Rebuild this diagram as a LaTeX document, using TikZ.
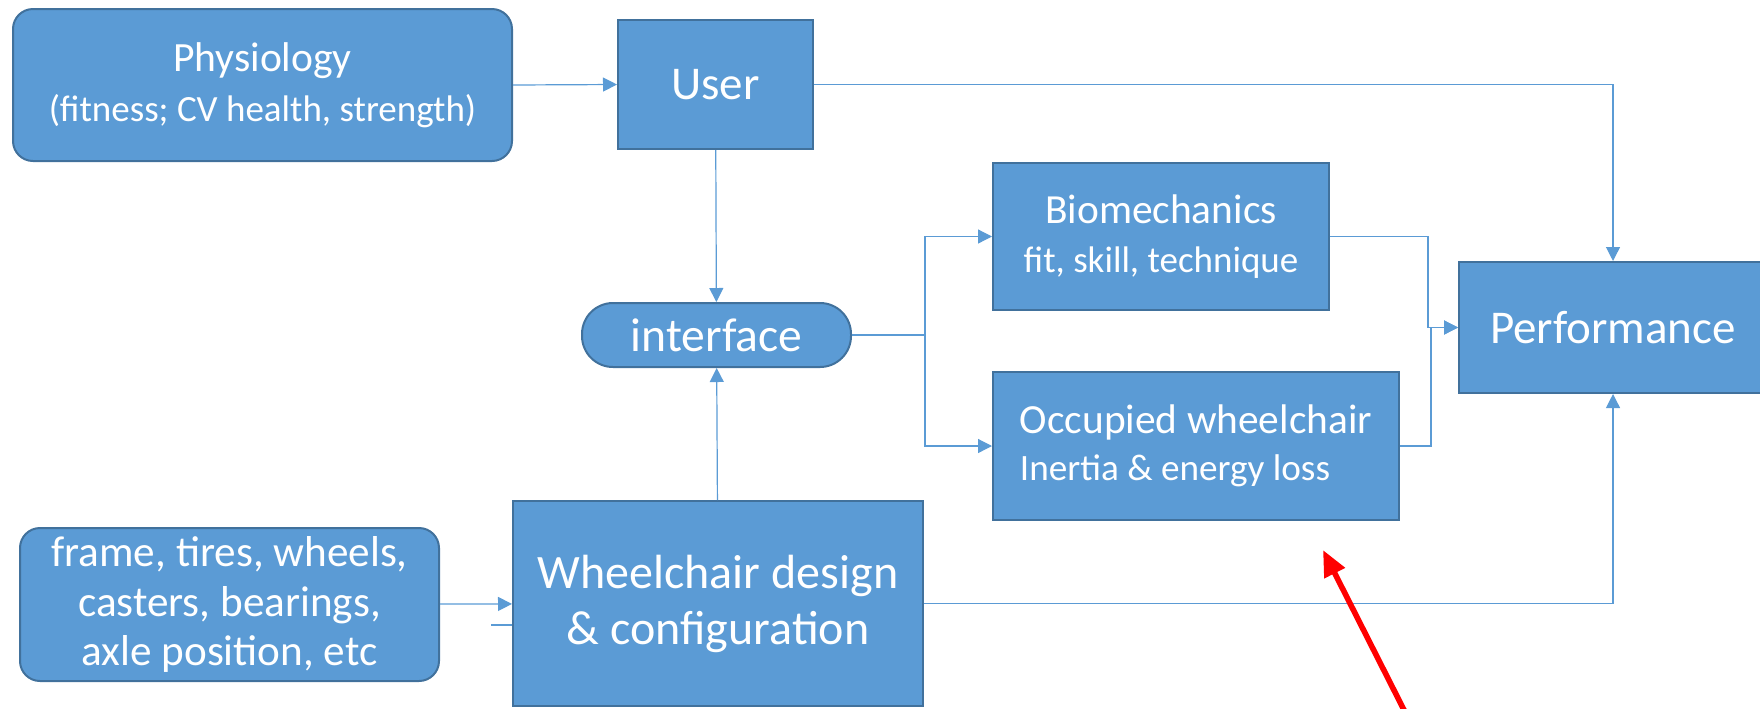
\documentclass[tikz,border=0pt]{standalone}
\usepackage{fontspec}
\setmainfont{Carlito}
\usetikzlibrary{arrows.meta}

\definecolor{boxblue}{HTML}{5B9BD5}
\definecolor{edgeblue}{HTML}{41719C}
\definecolor{lineblue}{HTML}{5B9BD5}
\newcommand{\fsz}[2]{\fontsize{#1}{#2}\selectfont}

\begin{document}
\begin{tikzpicture}[x=0.5pt, y=-0.5pt,
  box/.style={draw=edgeblue, line width=1pt, fill=boxblue, text=white, align=center, inner sep=0pt},
  roundbox/.style={box, rounded corners=10pt},
  pill/.style={box, rounded corners=15.5pt},
  link/.style={draw=lineblue, line width=0.6pt, -{Triangle[length=7pt,width=7pt]}},
  flow/.style={draw=lineblue, line width=0.6pt}]

\useasboundingbox (0,0) rectangle (1760,708);

\node[roundbox, minimum width=249.5pt, minimum height=76pt, font=\fsz{20.8}{25}] (phys) at (262.5,85) {Physiology\\\fsz{18.5}{25}(fitness; CV health, strength)};
\node[box, minimum width=97.5pt, minimum height=64.5pt, font=\fsz{23.5}{28}] (user) at (715.5,84.5) {User};
\node[pill, minimum width=134.5pt, minimum height=32pt, font=\fsz{23.8}{28}] (iface) at (716.5,335) {interface};
\node[box, minimum width=168pt, minimum height=73.5pt, font=\fsz{20.7}{24.7}] (bio) at (1161,236.5) {Biomechanics\\\fsz{18.5}{24.7}fit, skill, technique};
\node[box, minimum width=203pt, minimum height=74pt, align=left, font=\fsz{20.7}{23.5}] (occ) at (1196,446) {Occupied wheelchair\\\fsz{18.6}{23.5}Inertia \& energy loss};
\node[box, minimum width=154pt, minimum height=65.5pt, font=\fsz{23.5}{28}] (perf) at (1613,327.5) {Performance};
\node[roundbox, minimum width=209.5pt, minimum height=76.5pt, font=\fsz{21.6}{24.7}] (parts) at (229.5,604.5) {frame, tires, wheels,\\casters, bearings,\\axle position, etc};
\node[box, minimum width=205pt, minimum height=102.5pt, font=\fsz{24}{28}] (wcd) at (718,603.5) {Wheelchair design\\\& configuration};

\draw[link] (phys.east) -- (user.west);
\draw[link] (user.east) -| (perf.north);
\draw[link] (user) -- (iface);
\draw[link] (wcd) -- (iface);
\draw[link] (iface.east) -- ++(73,0) |- (bio.west);
\draw[link] (iface.east) -- ++(73,0) |- (occ.west);
\draw[link] (bio.east) -- ++(98,0) |- (perf.west);
\draw[link] (occ.east) -- ++(31,0) |- (perf.west);
\draw[link] (wcd.east) -| (perf.south);
\draw[link] (parts) -- (wcd);

\coordinate (stub) at (491,625);
\draw[flow] (stub) -- (stub -| wcd.west);

% red pointer
\coordinate (tail) at (1405,712);
\coordinate (tip) at (1323,550);
\draw[red, line width=2.8pt, -{Triangle[length=13pt,width=11pt]}] (tail) -- (tip);

\end{tikzpicture}
\end{document}
